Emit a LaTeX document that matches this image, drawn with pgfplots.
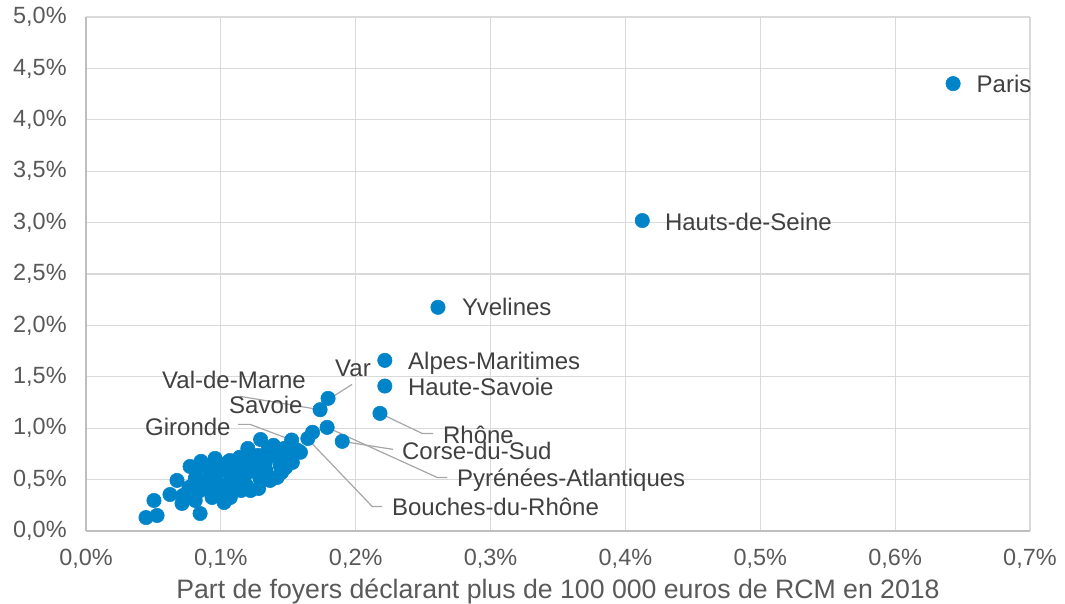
\documentclass[border=0pt]{standalone}
\usepackage{fontspec}
\setmainfont{Liberation Sans}
\usepackage{pgfplots}
\pgfplotsset{compat=1.18}
\definecolor{ptblue}{RGB}{0,132,201}
\definecolor{ticktxt}{RGB}{89,89,89}
\definecolor{lbltxt}{RGB}{64,64,64}
\definecolor{gridc}{RGB}{217,217,217}
\definecolor{axc}{RGB}{191,191,191}
\definecolor{leadc}{RGB}{166,166,166}
\pgfplotstableread{
x y
0.643 4.352
0.4125 3.02
0.261 2.176
0.2216 1.66
0.2216 1.41
0.218 1.144
0.1795 1.29
0.1736 1.18
0.190 0.872
0.1788 1.008
0.1645 0.90
0.168 0.96
0.1525 0.885
0.0445 0.131
0.0527 0.151
0.0504 0.297
0.0623 0.355
0.0675 0.492
0.0720 0.346
0.0712 0.268
0.0772 0.628
0.0853 0.677
0.0846 0.170
0.0764 0.424
0.0810 0.511
0.0846 0.394
0.0890 0.492
0.0920 0.589
0.0935 0.414
0.0964 0.540
0.0980 0.638
0.1010 0.443
0.1024 0.277
0.1040 0.589
0.1050 0.667
0.1070 0.492
0.1090 0.589
0.1110 0.414
0.1140 0.638
0.1160 0.511
0.1180 0.686
0.1200 0.570
0.1220 0.394
0.1150 0.394
0.1240 0.589
0.1260 0.667
0.1200 0.803
0.1295 0.890
0.1276 0.735
0.1330 0.667
0.1350 0.784
0.1410 0.735
0.1440 0.638
0.1417 0.521
0.1480 0.618
0.1500 0.706
0.1470 0.803
0.1570 0.784
0.0957 0.706
0.0880 0.638
0.0816 0.589
0.1067 0.686
0.1140 0.717
0.1290 0.511
0.1335 0.589
0.1365 0.492
0.1030 0.375
0.0935 0.326
0.0810 0.297
0.1190 0.443
0.1280 0.414
0.1070 0.326
0.1530 0.667
0.1450 0.570
0.1390 0.833
0.1590 0.766
0.1160 0.703
0.1450 0.640
0.1250 0.700
0.1310 0.620
0.1190 0.620
0.1100 0.540
}\pts
\begin{document}
\begin{tikzpicture}
\path[use as bounding box] (-64.5pt,-54.4pt) rectangle (734.25pt,398.25pt);
\begin{axis}[
  at={(0,0)}, anchor=south west,
  scale only axis, width=708pt, height=385.5pt,
  xmin=0, xmax=0.7, ymin=0, ymax=5,
  clip=false,
  axis x line*=bottom, axis y line*=left,
  axis line style={axc, line width=0.9pt, -},
  grid=major, major grid style={gridc, line width=0.8pt},
  major tick length=0pt,
  xtick={0,0.1,0.2,0.3,0.4,0.5,0.6,0.7},
  xticklabels={{0,0\%},{0,1\%},{0,2\%},{0,3\%},{0,4\%},{0,5\%},{0,6\%},{0,7\%}},
  ytick={0,0.5,1,1.5,2,2.5,3,3.5,4,4.5,5},
  yticklabels={{0,0\%},{0,5\%},{1,0\%},{1,5\%},{2,0\%},{2,5\%},{3,0\%},{3,5\%},{4,0\%},{4,5\%},{5,0\%}},
  xticklabel style={font=\fontsize{17.6}{20}\selectfont, text=ticktxt, yshift=-10pt},
  yticklabel style={font=\fontsize{17.6}{20}\selectfont, text=ticktxt, xshift=-11pt},
  xlabel={Part de foyers déclarant plus de 100 000 euros de RCM en 2018},
  xlabel style={at={(axis description cs:0.5,-0.083)}, anchor=north,
    font=\fontsize{20}{24}\selectfont, text=ticktxt},
]
% leader lines
\draw[leadc, line width=0.9pt] (axis cs:0.1142,1.310) -- (axis cs:0.1721,1.183);
\draw[leadc, line width=0.9pt] (axis cs:0.1973,1.426) -- (axis cs:0.1810,1.290);
\draw[leadc, line width=0.9pt] (axis cs:0.1128,1.037) -- (axis cs:0.1217,1.037) -- (axis cs:0.1513,0.891);
\draw[leadc, line width=0.9pt] (axis cs:0.2181,1.144) -- (axis cs:0.2493,0.949) -- (axis cs:0.2574,0.949);
\draw[leadc, line width=0.9pt] (axis cs:0.1899,0.872) -- (axis cs:0.2277,0.794);
\draw[leadc, line width=0.9pt] (axis cs:0.1788,1.008) -- (axis cs:0.2604,0.521) -- (axis cs:0.2678,0.521);
\draw[leadc, line width=0.9pt] (axis cs:0.1647,0.891) -- (axis cs:0.2122,0.239) -- (axis cs:0.2196,0.239);
\addplot[only marks, mark=*, mark size=5.4pt,
  mark options={fill=ptblue, draw=ptblue, line width=0.4pt}] table[x=x,y=y] {\pts};
% labels
\begin{scope}[every node/.style={anchor=base west, inner sep=0pt,
   font=\fontsize{18}{21}\selectfont, text=lbltxt}]
\node at (axis cs:0.6603,4.261) {Paris};
\node at (axis cs:0.4292,2.919) {Hauts-de-Seine};
\node at (axis cs:0.2787,2.092) {Yvelines};
\node at (axis cs:0.2387,1.567) {Alpes-Maritimes};
\node at (axis cs:0.2387,1.314) {Haute-Savoie};
\node at (axis cs:0.1846,1.499) {Var};
\node at (axis cs:0.0563,1.382) {Val-de-Marne};
\node at (axis cs:0.1060,1.139) {Savoie};
\node at (axis cs:0.0437,0.925) {Gironde};
\node at (axis cs:0.2646,0.847) {Rhône};
\node at (axis cs:0.2342,0.692) {Corse-du-Sud};
\node at (axis cs:0.2750,0.429) {Pyrénées-Atlantiques};
\node at (axis cs:0.2268,0.147) {Bouches-du-Rhône};
\end{scope}
\end{axis}
\end{tikzpicture}
\end{document}
